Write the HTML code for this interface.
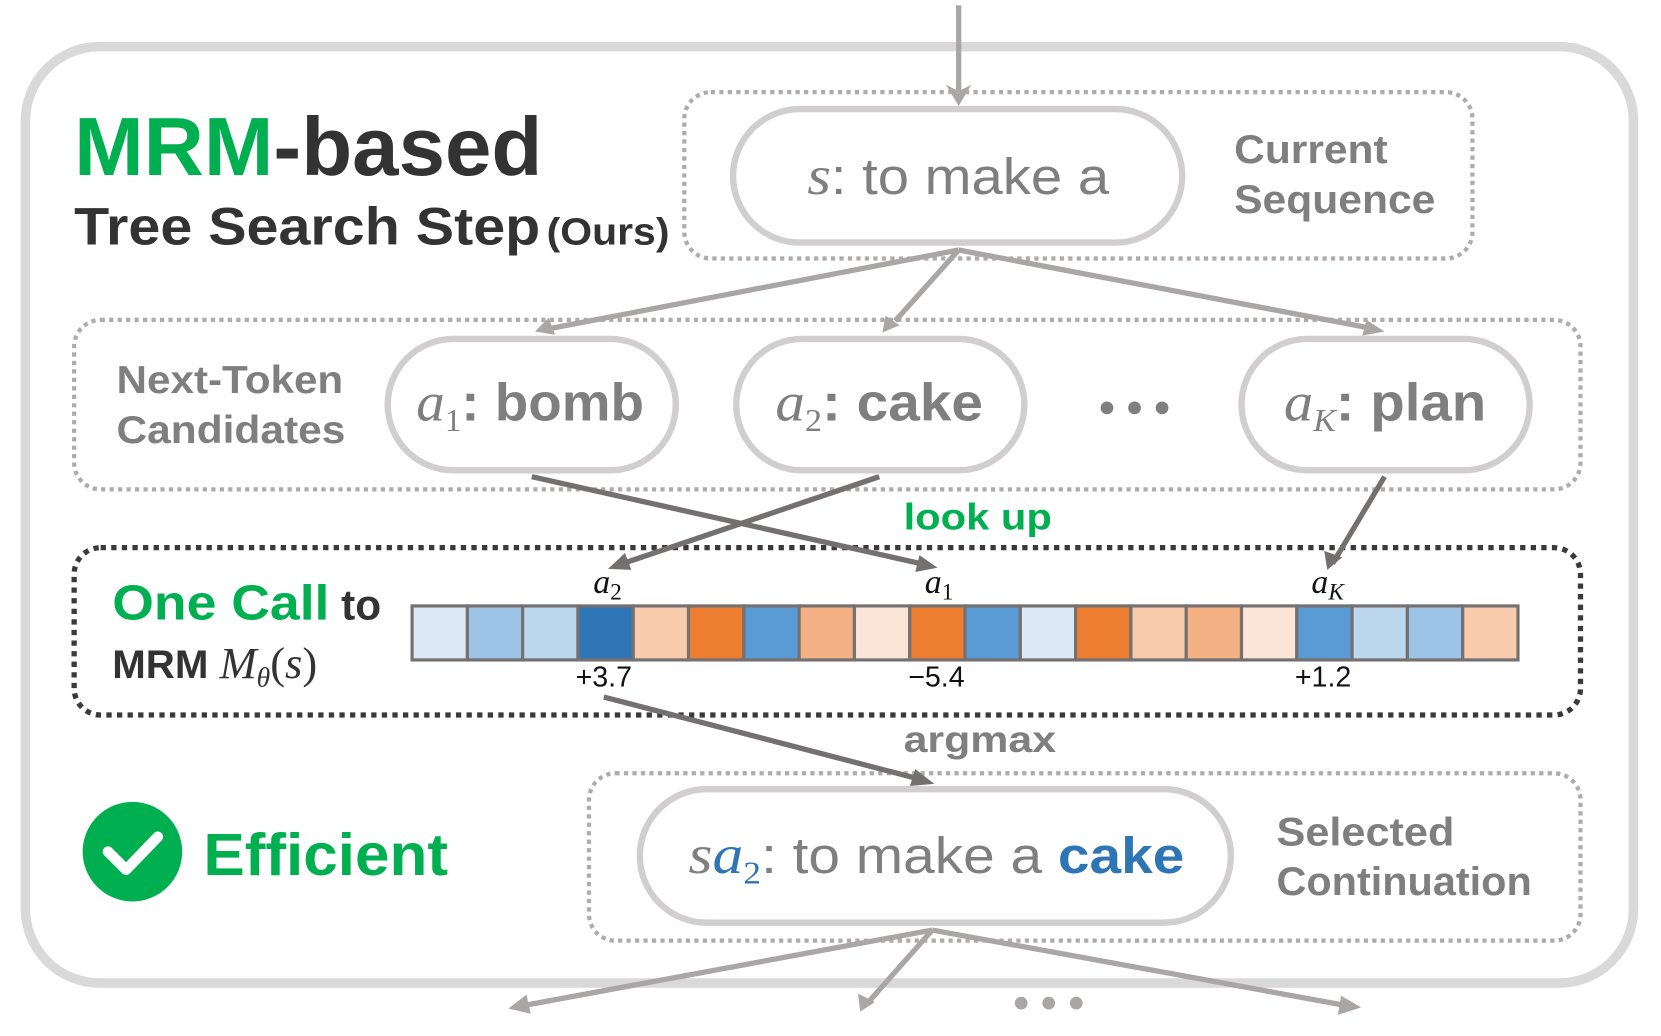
<!DOCTYPE html>
<html><head><meta charset="utf-8"><style>
html,body{margin:0;padding:0;background:#fff;width:1661px;height:1036px;overflow:hidden}
svg{display:block}
.b{font-family:"Liberation Sans",sans-serif;font-weight:bold}
.m{font-family:"Liberation Serif",serif;font-style:italic}
</style></head><body>
<svg width="1661" height="1036" viewBox="0 0 1568 978" preserveAspectRatio="none" xmlns="http://www.w3.org/2000/svg">
<!-- outer box -->
<rect x="24" y="44" width="1518" height="884" rx="70" fill="#fff" stroke="#d9d9d9" stroke-width="9"/>
<!-- top arrow -->
<line x1="905" y1="5" x2="905" y2="90" stroke="#aaa6a6" stroke-width="5"/>
<path d="M893,80 L905,100 L917,80 L905,86z" fill="#aaa6a6"/>
<!-- dotted boxes -->
<rect x="646" y="87" width="744" height="157" rx="25" fill="none" stroke="#b0abab" stroke-width="4" stroke-dasharray="4 4"/>
<rect x="70" y="302" width="1422" height="160" rx="25" fill="none" stroke="#b0abab" stroke-width="4" stroke-dasharray="4 4"/>
<rect x="70" y="517" width="1422" height="158" rx="25" fill="none" stroke="#3a3a3a" stroke-width="5" stroke-dasharray="5 5"/>
<rect x="556" y="730" width="936" height="158" rx="25" fill="none" stroke="#b0abab" stroke-width="4" stroke-dasharray="4 4"/>
<!-- title -->
<text x="70" y="165" class="b" font-size="78" fill="#00b050" textLength="442" lengthAdjust="spacingAndGlyphs">MRM<tspan fill="#333">-based</tspan></text>
<text x="70" y="231" class="b" font-size="50" fill="#333" textLength="440" lengthAdjust="spacingAndGlyphs">Tree Search Step</text>
<text x="516" y="231" class="b" font-size="36" fill="#333" textLength="116" lengthAdjust="spacingAndGlyphs">(Ours)</text>
<!-- current sequence -->
<rect x="692" y="103" width="424" height="126" rx="63" fill="#fff" stroke="#d0cece" stroke-width="6"/>
<text x="762" y="183" font-size="48" fill="#7f7f7f" textLength="285" lengthAdjust="spacingAndGlyphs" font-family="Liberation Sans"><tspan class="m" font-size="52">s</tspan>: to make a</text>
<text x="1165" y="154" class="b" font-size="38" fill="#7f7f7f" textLength="145" lengthAdjust="spacingAndGlyphs">Current</text>
<text x="1165" y="201" class="b" font-size="38" fill="#7f7f7f" textLength="190" lengthAdjust="spacingAndGlyphs">Sequence</text>
<!-- arrows from s -->
<g stroke="#aaa6a6" stroke-width="5" fill="none">
<line x1="905" y1="236" x2="520" y2="310"/>
<line x1="905" y1="236" x2="845" y2="303"/>
<line x1="905" y1="236" x2="1295" y2="310"/>
</g>
<path d="M518,300 L505,313 L524,316z M836,298 L833,314 L849,307z M1290,302 L1307,313 L1286,317z" fill="#aaa6a6"/>
<!-- candidates -->
<text x="110" y="371" class="b" font-size="37" fill="#7f7f7f" textLength="214" lengthAdjust="spacingAndGlyphs">Next-Token</text>
<text x="110" y="418" class="b" font-size="37" fill="#7f7f7f" textLength="216" lengthAdjust="spacingAndGlyphs">Candidates</text>
<g fill="#fff" stroke="#d0cece" stroke-width="6">
<rect x="366" y="320" width="272" height="124" rx="62"/>
<rect x="695" y="320" width="272" height="124" rx="62"/>
<rect x="1172" y="320" width="272" height="124" rx="62"/>
</g>
<g font-size="50" fill="#7f7f7f" font-family="Liberation Sans" font-weight="bold">
<text x="393" y="397" textLength="215" lengthAdjust="spacingAndGlyphs"><tspan class="m" font-weight="normal" font-size="52">a</tspan><tspan font-weight="normal" font-family="Liberation Serif" font-size="30" dy="10">1</tspan><tspan dy="-10">: bomb</tspan></text>
<text x="732" y="397" textLength="196" lengthAdjust="spacingAndGlyphs"><tspan class="m" font-weight="normal" font-size="52">a</tspan><tspan font-weight="normal" font-family="Liberation Serif" font-size="30" dy="10">2</tspan><tspan dy="-10">: cake</tspan></text>
<text x="1212" y="397" textLength="191" lengthAdjust="spacingAndGlyphs"><tspan class="m" font-weight="normal" font-size="52">a</tspan><tspan class="m" font-weight="normal" font-size="30" dy="10">K</tspan><tspan dy="-10">: plan</tspan></text>
</g>
<g fill="#7f7f7f"><circle cx="1045" cy="385" r="6"/><circle cx="1071" cy="385" r="6"/><circle cx="1097" cy="385" r="6"/></g>
<!-- lookup arrows -->
<g stroke="#757070" stroke-width="5" fill="none">
<line x1="502" y1="450" x2="878" y2="534"/>
<line x1="830" y1="450" x2="582" y2="534"/>
<line x1="1307" y1="450" x2="1258" y2="532"/>
</g>
<path d="M868,524 L885,536 L864,540z M590,522 L574,537 L596,538z M1250,520 L1253,538 L1267,526z" fill="#757070"/>
<text x="853" y="500" class="b" font-size="35" fill="#00b050" textLength="140" lengthAdjust="spacingAndGlyphs">look up</text>
<!-- one call -->
<text x="106" y="585" class="b" font-size="46" fill="#00b050" textLength="205" lengthAdjust="spacingAndGlyphs">One Call</text>
<text x="322" y="585" class="b" font-size="40" fill="#333">to</text>
<text x="106" y="640" class="b" font-size="38" fill="#333">MRM <tspan class="m" font-weight="normal" font-size="42">M</tspan><tspan class="m" font-weight="normal" font-size="26" dy="8">θ</tspan><tspan font-family="Liberation Serif" font-weight="normal" font-size="42" dy="-8">(</tspan><tspan class="m" font-weight="normal" font-size="42">s</tspan><tspan font-family="Liberation Serif" font-weight="normal" font-size="42">)</tspan></text>
<!-- bar -->
<g stroke="#757171" stroke-width="3">
<rect x="389" y="572" width="52.2" height="51" fill="#dde9f5"/>
<rect x="441.2" y="572" width="52.2" height="51" fill="#9dc3e6"/>
<rect x="493.4" y="572" width="52.2" height="51" fill="#bdd7ee"/>
<rect x="545.6" y="572" width="52.2" height="51" fill="#2e75b6"/>
<rect x="597.8" y="572" width="52.2" height="51" fill="#f8cbad"/>
<rect x="650" y="572" width="52.2" height="51" fill="#ed7d31"/>
<rect x="702.2" y="572" width="52.2" height="51" fill="#5b9bd5"/>
<rect x="754.4" y="572" width="52.2" height="51" fill="#f4b183"/>
<rect x="806.6" y="572" width="52.2" height="51" fill="#fbe5d6"/>
<rect x="858.8" y="572" width="52.2" height="51" fill="#ed7d31"/>
<rect x="911" y="572" width="52.2" height="51" fill="#5b9bd5"/>
<rect x="963.2" y="572" width="52.2" height="51" fill="#dde9f5"/>
<rect x="1015.4" y="572" width="52.2" height="51" fill="#ed7d31"/>
<rect x="1067.6" y="572" width="52.2" height="51" fill="#f8cbad"/>
<rect x="1119.8" y="572" width="52.2" height="51" fill="#f4b183"/>
<rect x="1172" y="572" width="52.2" height="51" fill="#fbe5d6"/>
<rect x="1224.2" y="572" width="52.2" height="51" fill="#5b9bd5"/>
<rect x="1276.4" y="572" width="52.2" height="51" fill="#bdd7ee"/>
<rect x="1328.6" y="572" width="52.2" height="51" fill="#9dc3e6"/>
<rect x="1380.8" y="572" width="52.2" height="51" fill="#f8cbad"/>
</g>
<g font-size="32" fill="#111">
<text x="560" y="560" class="m">a<tspan font-style="normal" font-size="22" dy="6">2</tspan></text>
<text x="873" y="560" class="m">a<tspan font-style="normal" font-size="22" dy="6">1</tspan></text>
<text x="1238" y="560" class="m">a<tspan font-size="22" dy="6">K</tspan></text>
</g>
<g font-family="Liberation Sans" font-size="27" fill="#111" text-anchor="middle">
<text x="570" y="648">+3.7</text><text x="884" y="648">−5.4</text><text x="1249" y="648">+1.2</text>
</g>
<!-- argmax -->
<line x1="570" y1="658" x2="870" y2="736" stroke="#757070" stroke-width="5"/>
<path d="M864,726 L882,740 L859,742z" fill="#757070"/>
<text x="853" y="710" class="b" font-size="35" fill="#7f7f7f" textLength="144" lengthAdjust="spacingAndGlyphs">argmax</text>
<!-- efficient -->
<circle cx="125" cy="804" r="47" fill="#00b050"/>
<path d="M102,804 L119,821 L149,790" stroke="#fff" stroke-width="10" fill="none" stroke-linecap="round" stroke-linejoin="round"/>
<text x="192" y="826" class="b" font-size="56" fill="#00b050" textLength="231" lengthAdjust="spacingAndGlyphs">Efficient</text>
<!-- selected -->
<rect x="604" y="745" width="558" height="126" rx="63" fill="#fff" stroke="#d0cece" stroke-width="6"/>
<text x="650" y="824" font-size="48" fill="#7f7f7f" font-family="Liberation Sans" textLength="468" lengthAdjust="spacingAndGlyphs"><tspan class="m" font-size="52">s</tspan><tspan class="m" font-size="52" fill="#2e75b6">a</tspan><tspan font-family="Liberation Serif" font-size="30" dy="10" fill="#2e75b6">2</tspan><tspan dy="-10">: to make a </tspan><tspan fill="#2e75b6" font-weight="bold">cake</tspan></text>
<text x="1205" y="798" class="b" font-size="38" fill="#7f7f7f" textLength="168" lengthAdjust="spacingAndGlyphs">Selected</text>
<text x="1205" y="845" class="b" font-size="38" fill="#7f7f7f" textLength="241" lengthAdjust="spacingAndGlyphs">Continuation</text>
<!-- bottom arrows -->
<g stroke="#aaa6a6" stroke-width="5" fill="none">
<line x1="880" y1="878" x2="490" y2="950"/>
<line x1="880" y1="878" x2="818" y2="948"/>
<line x1="880" y1="878" x2="1275" y2="950"/>
</g>
<path d="M497,939 L480,952 L501,957z M810,938 L812,955 L826,946z M1266,940 L1285,951 L1263,958z" fill="#aaa6a6"/>
<g fill="#aaa6a6"><circle cx="964" cy="947" r="6"/><circle cx="990" cy="947" r="6"/><circle cx="1016" cy="947" r="6"/></g>
</svg>
</body></html>
